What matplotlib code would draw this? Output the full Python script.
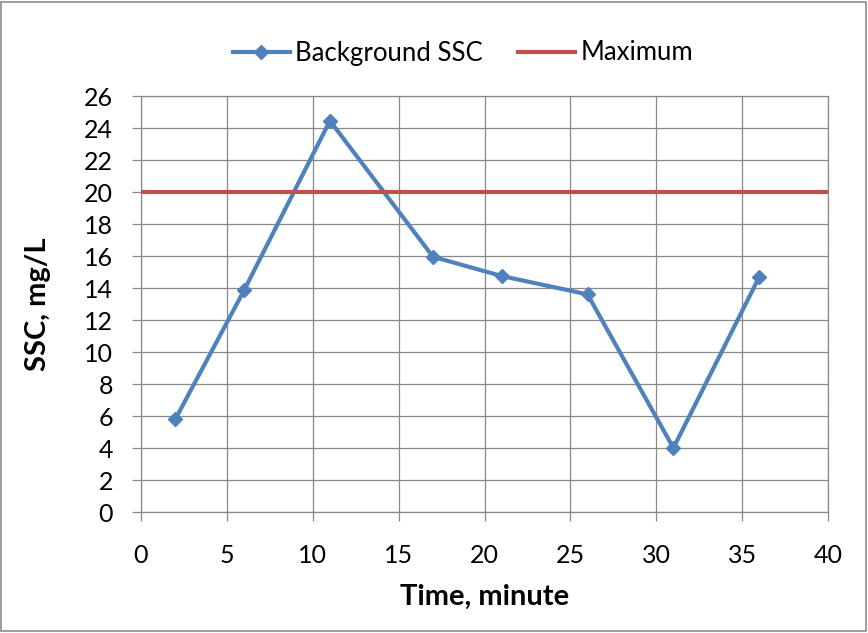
import matplotlib
matplotlib.use("Agg")
import matplotlib.pyplot as plt

time_min = [2, 6, 11, 17, 21, 26, 31, 36]
ssc = [5.8, 13.85, 24.45, 15.95, 14.75, 13.6, 4.0, 14.7]
max_x = [0, 40]
max_y = [20, 20]
xticks = list(range(0, 41, 5))
yticks = list(range(0, 27, 2))

plt.rcParams['font.family'] = ['Lato', 'DejaVu Sans']

fig = plt.figure(figsize=(8.68, 6.33), dpi=100)
ax = fig.add_axes([141/868, 1 - 512/633, (828-141)/868, (512-96)/633])

grid_c = '#898989'
ax.plot(time_min, ssc, color='#4F81BD', lw=3.0, marker='D', markersize=7,
        label='Background SSC', zorder=3)
ax.plot(max_x, max_y, color='#C0504D', lw=3.0, label='Maximum', zorder=3)

ax.set_xlim(0, 40)
ax.set_ylim(0, 26)
ax.set_xticks(xticks)
ax.set_yticks(yticks)
ax.grid(True, color=grid_c, lw=0.9)
ax.set_axisbelow(True)
for s in ax.spines.values():
    s.set_color(grid_c)
    s.set_linewidth(0.9)
ax.tick_params(axis='both', colors=grid_c, labelcolor='black', labelsize=18,
               length=6.5, width=0.9, direction='out')
ax.tick_params(axis='x', pad=16.5)
ax.tick_params(axis='y', pad=13.5)

ax.set_xlabel('Time, minute', fontsize=21, fontweight='bold', labelpad=12)
ax.set_ylabel('SSC, mg/L', fontsize=21, fontweight='bold', labelpad=24)

leg = fig.legend(loc='center', bbox_to_anchor=(463/868, 1 - 53/633), ncol=2,
                 frameon=False, fontsize=18.5, handlelength=2.2, columnspacing=1.4,
                 handletextpad=0.2)

fig.patches.append(plt.Rectangle((0.001, 0.003), 0.997, 0.994, transform=fig.transFigure,
                                 fill=False, edgecolor='#8c8c8c', lw=1.2))

fig.savefig('out.png', dpi=100)
